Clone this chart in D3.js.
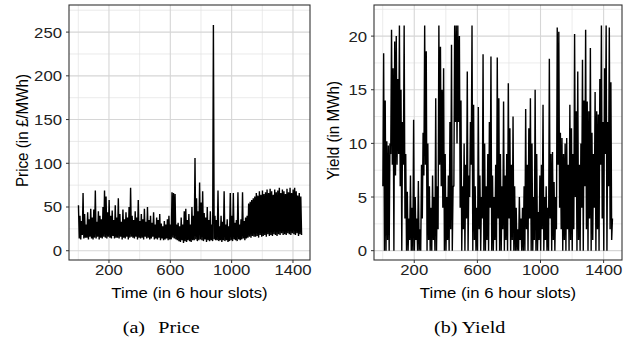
<!DOCTYPE html>
<html>
<head>
<meta charset="utf-8">
<script src="https://cdn.jsdelivr.net/npm/d3@7"></script>
<style>
  body { margin: 0; background: #fff; }
  svg { display: block; }
</style>
</head>
<body>
<svg id="chart" width="635" height="344"></svg>
<script>
// time axis: every 5th six-hour slot
const slots = d3.range(1, 1461, 5)

// price (GBP/MWh), 50 slots per row
const price = [
  52,14,40,13,34,18,66,14,42,15,
  30,15,44,13,36,16,48,14,38,13,
  47,15,69,14,33,16,45,13,40,15,
  36,14,50,16,69,15,62,14,44,16,
  58,15,40,14,46,17,35,14,52,15,
  38,15,60,14,42,16,33,13,47,15,
  36,14,44,16,38,13,50,15,72,16,
  40,15,35,14,45,16,38,13,58,15,
  34,14,42,15,36,13,48,16,33,14,
  50,15,35,13,40,14,32,16,44,13,
  30,14,38,13,35,15,42,12,31,14,
  28,12,34,13,30,14,36,12,40,13,
  30,13,67,15,66,14,65,13,30,12,
  32,11,28,10,38,12,30,9,45,11,
  48,10,35,12,42,11,30,10,50,12,
  40,12,106,13,60,11,45,12,78,13,
  55,12,68,11,43,13,38,10,50,12,
  35,11,45,12,30,11,258,13,40,12,
  35,12,69,11,28,12,40,10,33,12,
  68,11,30,12,36,10,28,11,66,12,
  40,11,66,13,32,12,35,11,67,13,
  30,12,36,13,67,14,34,12,38,14,
  40,15,54,16,56,15,58,17,60,16,
  62,16,66,17,63,15,68,18,64,16,
  69,17,65,18,67,16,70,19,66,17,
  71,18,68,17,64,19,70,18,67,17,
  69,19,72,18,66,20,70,18,68,19,
  65,18,71,20,67,19,72,18,66,20,
  70,19,72,18,68,20,63,17,66,19,
  62,18
]

// yield (MWh)
const yieldMWh = [
  6,18.4,0,14,0,10.2,1,9.8,0,10,
  9,20.6,8,17,0,19.5,7,20,8,16,
  9,21,6,15,0,12,8,21,3,9,
  0,5.5,0,3,1,7,0,4,0,12.2,
  0,5,1,3,0,6.5,0,2,0,8,
  3,11,7,21,8,18.6,0,10,1,6,
  0,4,0,7,1,5,0,14.2,0,6,
  2,21,8,19,6,15,4,17,0,9,
  0,5,1,7,0,12,2,19.2,0,6,
  6,21,12,21,10,21,12,20,4,14,
  0,6,2,10,0,8,3,16.7,0,7,
  5,12,8,21,0,13.6,1,6,0,4,
  0,13.4,2,7,0,5,3,18.3,0,10,
  0,6,1,9,0,12,4,18.1,0,7,
  0,5,1,8,0,18,3,14.2,0,9,
  0,6,2,13.9,0,7,1,9,0,15.6,
  3,11.4,0,8,1,12.5,0,6,0,4,
  0,2,0,5,1,3,0,4,0,6,
  0,13.2,2,8,0,11.4,3,14.2,0,10,
  0,5,1,15,0,9,0,3.6,1,7,
  0,8,2,13.6,0,5,1,6,0,4,
  0,17.9,3,9,0,9.2,1,6.4,0,5,
  2,20.8,8,20.4,4,11,2,10.5,0,9,
  1,10,0,10.5,2,8,0,13.6,1,11.4,
  0,9,2,20.2,5,13,0,16.7,1,8,
  0,10,4,17.8,0,14,6,20.6,2,13.9,
  0,13,3,18.9,0,11,1,9,4,14.8,
  0,13,2,12.7,0,16,8,21,3,12,
  0,17,9,21,0,12,6,20.8,2,15.7,
  1,3
]

const xTicks = [200, 600, 1000, 1400]
const xMinor = [0, 400, 800, 1200]
const priceTicks = [0, 50, 100, 150, 200, 250]
const priceMinor = [25, 75, 125, 175, 225, 275]
const yieldTicks = [0, 5, 10, 15, 20]
const yieldMinor = [2.5, 7.5, 12.5, 17.5, 22.5]

const svg = d3.select('#chart')
const SX = 1.1   // the figure is a bit stretched sideways

function label(g, x, y, txt, opts) {
  let t = g.append('text')
    .attr('transform', `translate(${x},${y}) scale(${opts.sx || SX},1)` + (opts.rot ? ' rotate(-90)' : ''))
    .attr('text-anchor', opts.anchor || 'middle')
    .attr('font-family', opts.family || '"Liberation Sans", Arial, sans-serif')
    .attr('font-size', opts.size || 15.2)
    .attr('fill', opts.fill || '#000')
    .text(txt)
  if (opts.dy) t.attr('dy', opts.dy)
  return t
}

function panel(p) {
  const g = svg.append('g')
  const x = d3.scaleLinear().domain(p.xDomain).range([p.left, p.right])
  const y = d3.scaleLinear().domain(p.yDomain).range([p.bottom, p.top])

  // grid
  g.selectAll('.xmin').data(xMinor).join('line')
    .attr('x1', d => x(d)).attr('x2', d => x(d))
    .attr('y1', p.top).attr('y2', p.bottom)
    .attr('stroke', '#e3e3e3').attr('stroke-width', 0.7)
  g.selectAll('.ymin').data(p.yMinor).join('line')
    .attr('y1', d => y(d)).attr('y2', d => y(d))
    .attr('x1', p.left).attr('x2', p.right)
    .attr('stroke', '#e3e3e3').attr('stroke-width', 0.7)
  g.selectAll('.xmaj').data(xTicks).join('line')
    .attr('x1', d => x(d)).attr('x2', d => x(d))
    .attr('y1', p.top).attr('y2', p.bottom)
    .attr('stroke', '#d6d6d6').attr('stroke-width', 1.1)
  g.selectAll('.ymaj').data(p.yTicks).join('line')
    .attr('y1', d => y(d)).attr('y2', d => y(d))
    .attr('x1', p.left).attr('x2', p.right)
    .attr('stroke', '#d6d6d6').attr('stroke-width', 1.1)

  // series
  const line = d3.line().x((d, i) => x(slots[i])).y(d => y(d))
  g.append('path')
    .datum(p.values)
    .attr('d', line)
    .attr('fill', 'none')
    .attr('stroke', '#000')
    .attr('stroke-width', 1.4)
    .attr('stroke-linejoin', 'bevel')

  // border
  g.append('rect')
    .attr('x', p.left).attr('y', p.top)
    .attr('width', p.right - p.left).attr('height', p.bottom - p.top)
    .attr('fill', 'none').attr('stroke', '#333').attr('stroke-width', 1.1)

  // ticks
  g.selectAll('.xt').data(xTicks).join('line')
    .attr('x1', d => x(d)).attr('x2', d => x(d))
    .attr('y1', p.bottom).attr('y2', p.bottom + 3)
    .attr('stroke', '#333').attr('stroke-width', 1)
  g.selectAll('.yt').data(p.yTicks).join('line')
    .attr('y1', d => y(d)).attr('y2', d => y(d))
    .attr('x1', p.left - 3).attr('x2', p.left)
    .attr('stroke', '#333').attr('stroke-width', 1)

  xTicks.forEach(d => label(g, x(d), p.bottom + 15, d, { fill: '#222' }))
  p.yTicks.forEach(d => label(g, p.left - 7, y(d), d, { anchor: 'end', dy: '0.36em', fill: '#222' }))

  label(g, (p.left + p.right) / 2, 298, 'Time (in 6 hour slots)', {})
  label(g, p.yTitleX, (p.top + p.bottom) / 2 - 2, p.yTitle, { rot: true })

  // caption
  label(g, p.capX, 333, p.capTag, { anchor: 'start', family: '"Liberation Serif", "Times New Roman", serif', size: 16.5, sx: 1.22 })
  label(g, p.capX2, 333, p.capText, { anchor: 'start', family: '"Liberation Serif", "Times New Roman", serif', size: 16.5, sx: 1.22 })
}

panel({
  values: price,
  left: 69, right: 310, top: 5, bottom: 260,
  xDomain: [-60.7, 1511], yDomain: [-10.6, 281],
  yTicks: priceTicks, yMinor: priceMinor,
  yTitle: 'Price (in £/MWh)', yTitleX: 28,
  capTag: '(a)', capText: 'Price', capX: 122.7, capX2: 158.3
})

panel({
  values: yieldMWh,
  left: 374, right: 622, top: 5, bottom: 260,
  xDomain: [-55.1, 1516.4], yDomain: [-0.87, 22.9],
  yTicks: yieldTicks, yMinor: yieldMinor,
  yTitle: 'Yield (in MWh)', yTitleX: 339,
  capTag: '(b)', capText: 'Yield', capX: 434, capX2: 461.7
})
</script>
</body>
</html>
